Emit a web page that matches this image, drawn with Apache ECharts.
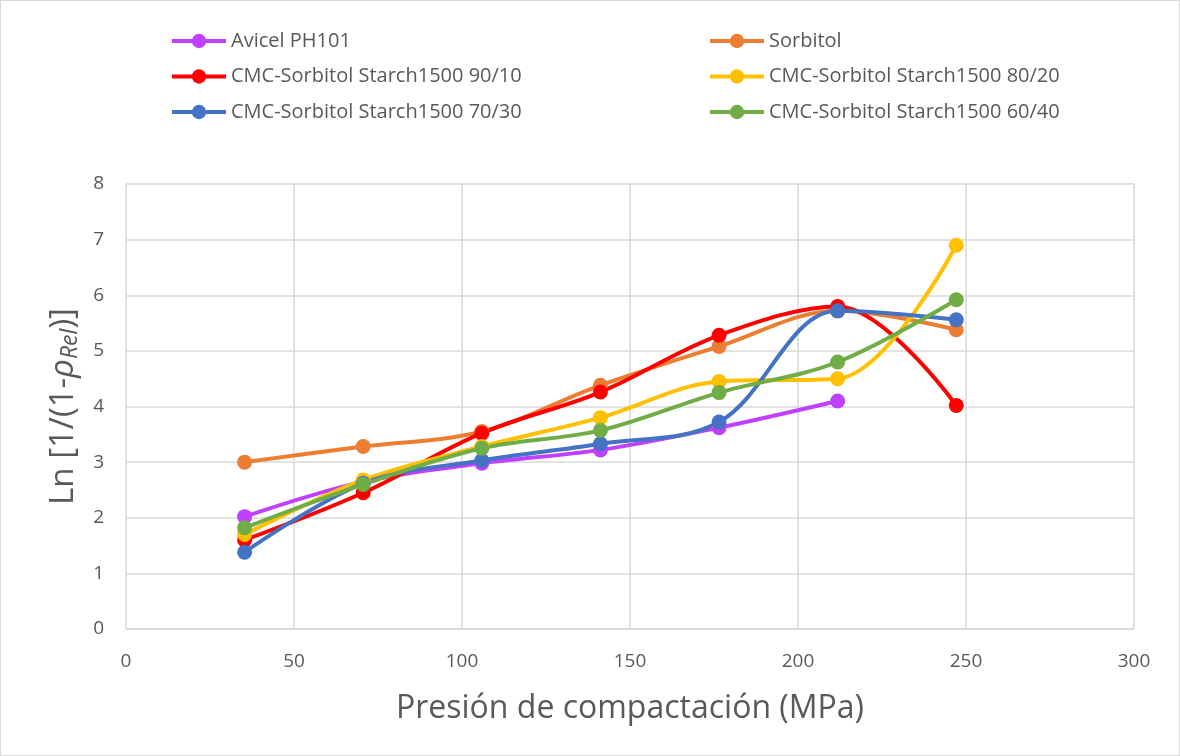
<!DOCTYPE html>
<html>
<head>
<meta charset="utf-8">
<script src="https://cdn.jsdelivr.net/npm/echarts@6/dist/echarts.min.js"></script>
<style>
html,body{margin:0;padding:0;background:#fff;}
#c{width:1180px;height:756px;box-sizing:border-box;border:1px solid #d9d9d9;}
</style>
</head>
<body>
<div id="c"></div>
<script>
const pressure = [35.3, 70.6, 105.9, 141.2, 176.5, 211.8, 247.1];
const avicel   = [2.02, 2.65, 2.98, 3.22, 3.62, 4.10];
const sorbitol = [3.00, 3.28, 3.55, 4.38, 5.08, 5.72, 5.38];
const mix9010  = [1.60, 2.45, 3.52, 4.26, 5.28, 5.80, 4.02];
const mix8020  = [1.70, 2.68, 3.28, 3.80, 4.45, 4.50, 6.90];
const mix7030  = [1.38, 2.62, 3.03, 3.33, 3.72, 5.72, 5.56];
const mix6040  = [1.82, 2.60, 3.25, 3.57, 4.25, 4.80, 5.92];
const seriesNames = ['Avicel PH101','Sorbitol','CMC-Sorbitol Starch1500 90/10','CMC-Sorbitol Starch1500 80/20','CMC-Sorbitol Starch1500 70/30','CMC-Sorbitol Starch1500 60/40'];
const seriesValues = [avicel, sorbitol, mix9010, mix8020, mix7030, mix6040];
const colors = ['#BF40FF','#ED7D31','#FF0000','#FFC000','#4472C4','#70AD47'];
const xTicks = {min:0, max:300, interval:50};
const yTicks = {min:0, max:8, interval:1};

const FONT = 'Open Sans';
const chart = echarts.init(document.getElementById('c'));
const legendText = {fontFamily: FONT, fontSize: 20, color: '#595959', lineHeight: 22};
const legendCommon = {orient:'vertical', top:24, itemWidth:54, itemHeight:18, itemGap:13.5,
  textStyle:legendText, selectedMode:false, lineStyle:{width:4}};
chart.setOption({
  animation:false,
  backgroundColor:'#fff',
  color: colors,
  legend: [
    Object.assign({left:164, data:[seriesNames[0], seriesNames[2], seriesNames[4]]}, legendCommon),
    Object.assign({left:702, data:[seriesNames[1], seriesNames[3], seriesNames[5]]}, legendCommon)
  ],
  grid:{left:125, right:45, top:183, bottom:126},
  xAxis:{
    type:'value', min:xTicks.min, max:xTicks.max, interval:xTicks.interval,
    name:'Presión de compactación (MPa)', nameLocation:'middle', nameGap:64,
    nameTextStyle:{fontFamily:FONT, fontSize:32, color:'#595959'},
    axisLine:{show:true, lineStyle:{color:'#d9d9d9', width:1.5}},
    axisTick:{show:false},
    axisLabel:{fontFamily:FONT, fontSize:19, color:'#595959', margin:23},
    splitLine:{show:true, lineStyle:{color:'#d9d9d9', width:1.5}}
  },
  yAxis:{
    type:'value', min:yTicks.min, max:yTicks.max, interval:yTicks.interval,
    name:'{a|Ln [1/(1-}{i|ρ}{s|Rel}{a|)]}', nameLocation:'middle', nameGap:42,
    nameTextStyle:{
      rich:{
        a:{fontFamily:FONT, fontSize:33, color:'#595959', lineHeight:40},
        i:{fontFamily:FONT, fontSize:33, color:'#595959', fontStyle:'italic', lineHeight:40},
        s:{fontFamily:FONT, fontSize:23, color:'#595959', fontStyle:'italic', lineHeight:40, padding:[14,0,0,0]}
      }
    },
    axisLine:{show:false},
    axisTick:{show:false},
    axisLabel:{fontFamily:FONT, fontSize:19, color:'#595959', margin:22},
    splitLine:{show:true, lineStyle:{color:'#d9d9d9', width:1.5}}
  },
  series: seriesNames.map((n,i)=>({
    name:n, type:'line', smooth:0.35,
    data: seriesValues[i].map((v,j)=>[pressure[j], v]),
    symbol:'circle', symbolSize:15,
    lineStyle:{width:4, color:colors[i]},
    itemStyle:{color:colors[i]}
  }))
});
</script>
</body>
</html>
